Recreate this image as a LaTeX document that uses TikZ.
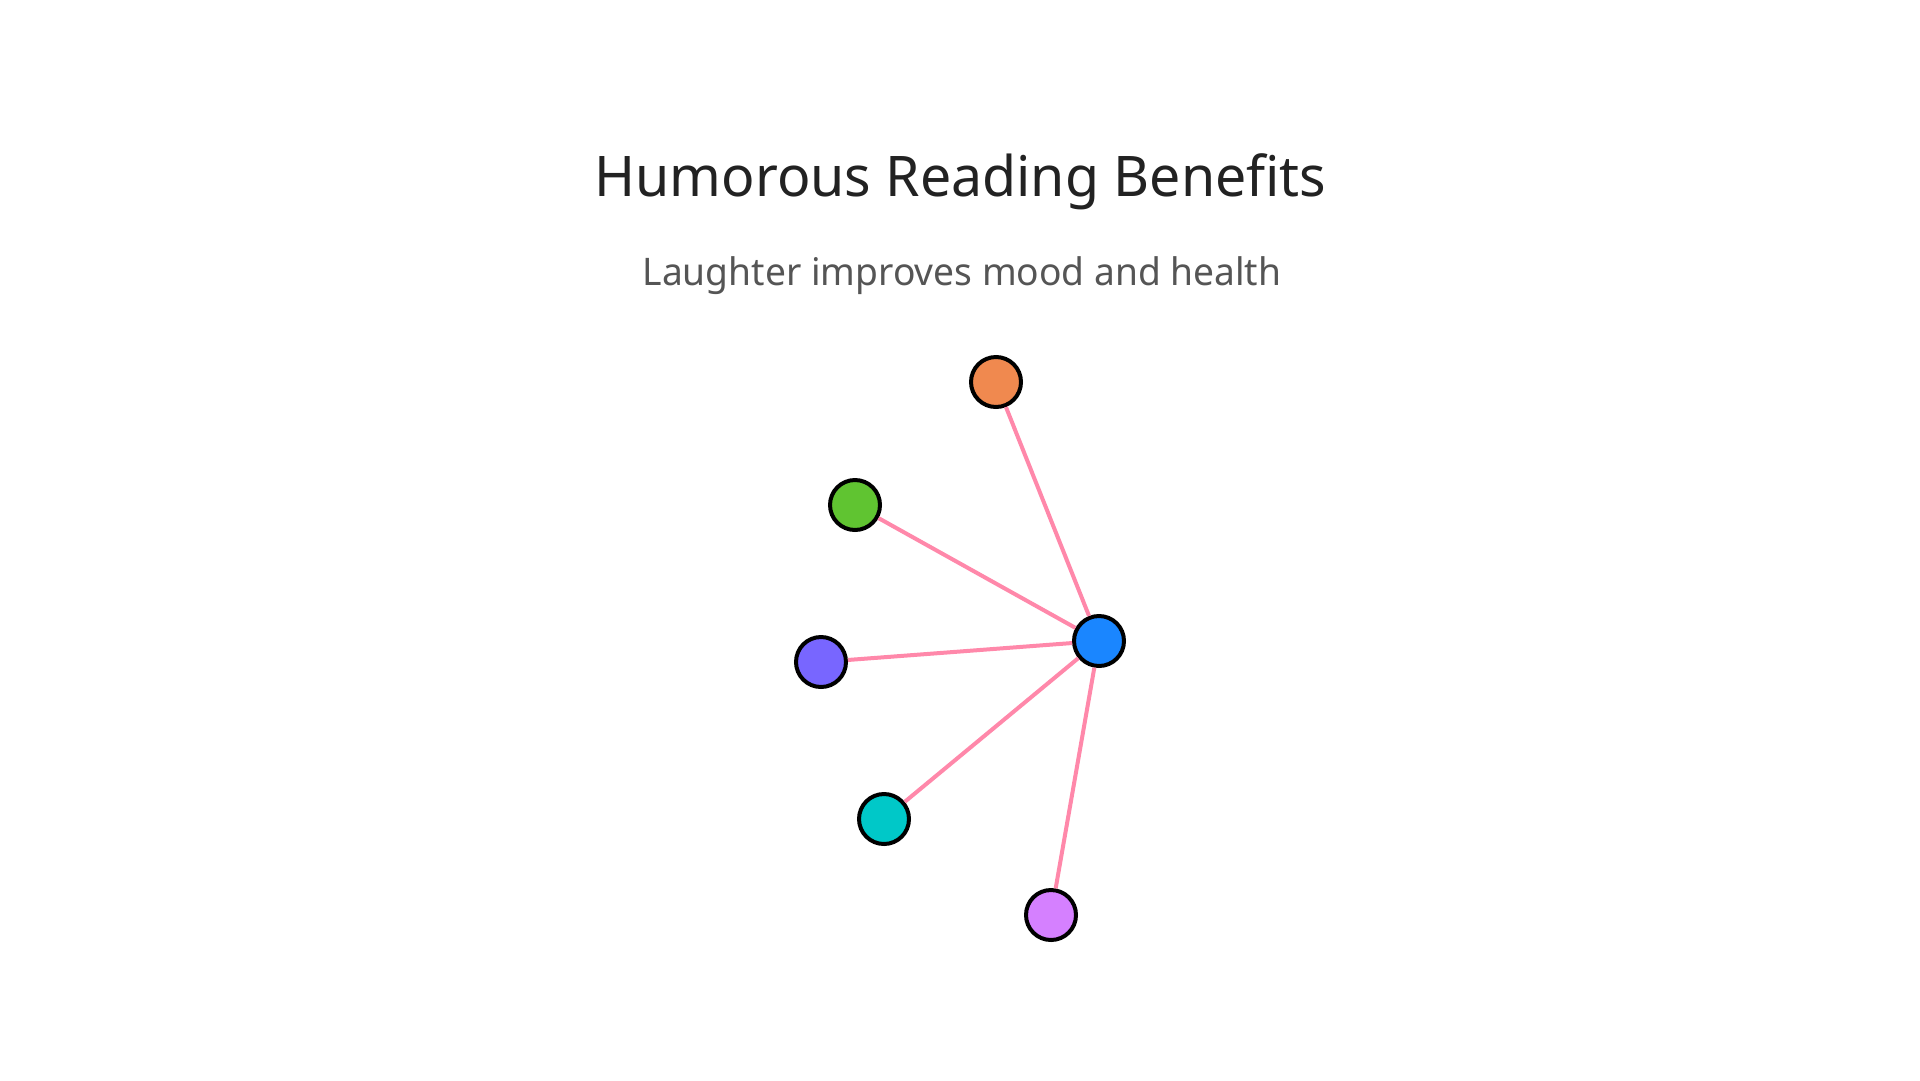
\documentclass[tikz,border=0pt]{standalone}
\usepackage{fontspec}
\usepackage{graphicx}
\setmainfont{Noto Sans}
\definecolor{titlec}{HTML}{222222}
\definecolor{subc}{HTML}{555555}
\definecolor{edgec}{HTML}{FF88AA}
\definecolor{corange}{HTML}{F0894F}
\definecolor{cgreen}{HTML}{60C431}
\definecolor{cpurple}{HTML}{7866FF}
\definecolor{cblue}{HTML}{1A86FF}
\definecolor{cteal}{HTML}{00C8C8}
\definecolor{cpink}{HTML}{D580FF}
\tikzset{
  dot/.style={circle, draw=black, line width=4pt, minimum size=50pt, inner sep=0pt},
  edge/.style={draw=edgec, line width=4pt},
}
\begin{document}
\begin{tikzpicture}[x=1pt,y=-1pt]
\useasboundingbox (0,0) rectangle (1920,1080);
\fill[white] (0,0) rectangle (1920,1080);
\node[anchor=base, text=titlec, font=\fontsize{56}{60}\selectfont, inner sep=0pt] (title) at (960.5,196) {\scalebox{0.99}[1]{Humorous Reading Benefits}};
\node[anchor=base, text=subc, font=\fontsize{38}{42}\selectfont, inner sep=0pt] (sub) at (962,285) {\scalebox{0.978}[1]{Laughter improves mood and health}};
\node[dot, fill=cblue] (hub) at (1099,641) {};
\node[dot, fill=corange] (a) at (996,382) {};
\node[dot, fill=cgreen] (b) at (855,505) {};
\node[dot, fill=cpurple] (c) at (821,662) {};
\node[dot, fill=cteal] (d) at (884,819) {};
\node[dot, fill=cpink] (e) at (1051,915) {};
\path[edge] (hub) -- (a);
\path[edge] (hub) -- (b);
\path[edge] (hub) -- (c);
\path[edge] (hub) -- (d);
\path[edge] (hub) -- (e);
\end{tikzpicture}
\end{document}
